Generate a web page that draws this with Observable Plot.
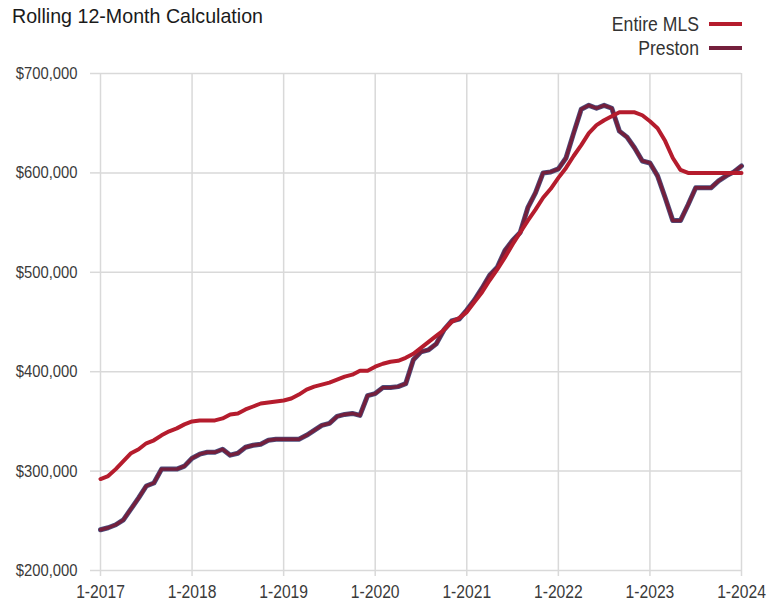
<!DOCTYPE html>
<html><head><meta charset="utf-8">
<script src="https://cdn.jsdelivr.net/npm/d3@7"></script>
<script src="https://cdn.jsdelivr.net/npm/@observablehq/plot@0.6"></script>
<style>
body{margin:0;background:#fff;font-family:"Liberation Sans Narrow","Arial Narrow","Liberation Sans",sans-serif;}
#wrap{position:relative;width:768px;height:604px;overflow:hidden;}
#head{position:relative;height:60px;}
#title{position:absolute;left:12px;top:3px;font-size:21px;line-height:26px;color:#1a1a1a;white-space:nowrap;transform:scaleX(0.935);transform-origin:left center;}
.leg{position:absolute;right:26px;display:flex;align-items:center;font-size:20px;line-height:24px;color:#333;white-space:nowrap;}
.leg span.tx{display:inline-block;transform:scaleX(0.88);transform-origin:right center;}
.leg span.sw{display:inline-block;width:33px;height:4px;margin-left:10px;}
</style></head>
<body><div id="wrap"><div id="head"><div id="title">Rolling 12-Month Calculation</div></div><div id="chart"></div></div>
<script>
// Month index 0 = January 2017 ... 84 = January 2024
const seriesNames = ["Entire MLS", "Preston"];
const seriesColors = ["#b51c2d", "#741f3c"];
const mlsValues = [
  292000,295000,302000,310000,318000,322000,328000,331000,336000,340000,343000,347000,
  350000,351000,351000,351000,353000,357000,358000,362000,365000,368000,369000,370000,
  371000,373000,377000,382000,385000,387000,389000,392000,395000,397000,401000,401000,
  405000,408000,410000,411000,414000,418000,424000,430000,436000,442000,450000,454000,
  460000,470000,480000,492000,503000,515000,528000,540000,552000,563000,575000,584000,
  595000,605000,617000,628000,640000,648000,653000,657000,661000,661000,661000,658000,
  652000,645000,632000,615000,603000,600000,600000,600000,600000,600000,600000,600000,
  600000
];
const prestonValues = [
  241000,243000,246000,251000,262000,273000,285000,288000,302000,302000,302000,305000,
  313000,317000,319000,319000,322000,316000,318000,324000,326000,327000,331000,332000,
  332000,332000,332000,336000,341000,346000,348000,355000,357000,358000,356000,376000,
  378000,384000,384000,385000,388000,412000,420000,422000,428000,442000,451000,453000,
  462000,472000,484000,497000,505000,522000,532000,540000,565000,580000,600000,601000,
  604000,615000,640000,664000,668000,665000,668000,665000,642000,636000,625000,612000,
  610000,597000,575000,552000,552000,568000,585000,585000,585000,592000,597000,601000,
  607000
];
const xTickValues = [0, 12, 24, 36, 48, 60, 72, 84];
const xTickLabels = ["1-2017","1-2018","1-2019","1-2020","1-2021","1-2022","1-2023","1-2024"];
const yTickValues = [200000, 300000, 400000, 500000, 600000, 700000];
const yTickLabels = ["$200,000","$300,000","$400,000","$500,000","$600,000","$700,000"];

const mls = mlsValues.map((v, i) => ({i, v}));
const preston = prestonValues.map((v, i) => ({i, v}));

// legend
const head = document.getElementById("head");
[[seriesNames[0], seriesColors[0], 12], [seriesNames[1], seriesColors[1], 36]].forEach(([n, c, t]) => {
  const d = document.createElement("div");
  d.className = "leg"; d.style.top = t + "px";
  d.innerHTML = `<span class="tx">${n}</span><span class="sw" style="background:${c}"></span>`;
  head.appendChild(d);
});

const grid = "#d9d9d9";
const chart = Plot.plot({
  width: 768, height: 544,
  marginTop: 13, marginBottom: 34, marginLeft: 100, marginRight: 27,
  style: {fontSize: "17px", fontFamily: '"Liberation Sans Narrow","Arial Narrow","Liberation Sans",sans-serif', background: "#fff"},
  x: {domain: [0, 84]},
  y: {domain: [200000, 700000]},
  marks: [
    Plot.gridY(yTickValues, {stroke: grid, strokeOpacity: 1, strokeWidth: 1.5}),
    Plot.gridX(xTickValues, {stroke: grid, strokeOpacity: 1, strokeWidth: 1.5}),
    Plot.axisY(yTickValues, {tickSize: 10, tickPadding: 13, stroke: grid, strokeWidth: 1.5, fill: "#3a3a3a", fontSize: 17,
      tickFormat: d => yTickLabels[yTickValues.indexOf(d)], label: null}),
    Plot.axisX(xTickValues, {tickSize: 6, tickPadding: 9, stroke: grid, strokeWidth: 1.5, fill: "#3a3a3a", fontSize: 18,
      tickFormat: d => xTickLabels[xTickValues.indexOf(d)], label: null}),
    Plot.lineY(preston, {x: "i", y: "v", stroke: "#4b4f7e", strokeWidth: 5, curve: "linear"}),
    Plot.lineY(preston, {x: "i", y: "v", stroke: seriesColors[1], strokeWidth: 3.4, curve: "linear"}),
    Plot.lineY(mls, {x: "i", y: "v", stroke: seriesColors[0], strokeWidth: 4, curve: "linear"})
  ]
});
document.getElementById("chart").appendChild(chart);
// condense the text glyphs horizontally (narrow face is not installed)
chart.querySelectorAll("text").forEach(el => {
  const t = el.getAttribute("transform") || "";
  const x = parseFloat(el.getAttribute("x")) || 0;
  el.setAttribute("transform", `${t} translate(${x},0) scale(0.87,1) translate(${-x},0)`);
});
</script></body></html>
